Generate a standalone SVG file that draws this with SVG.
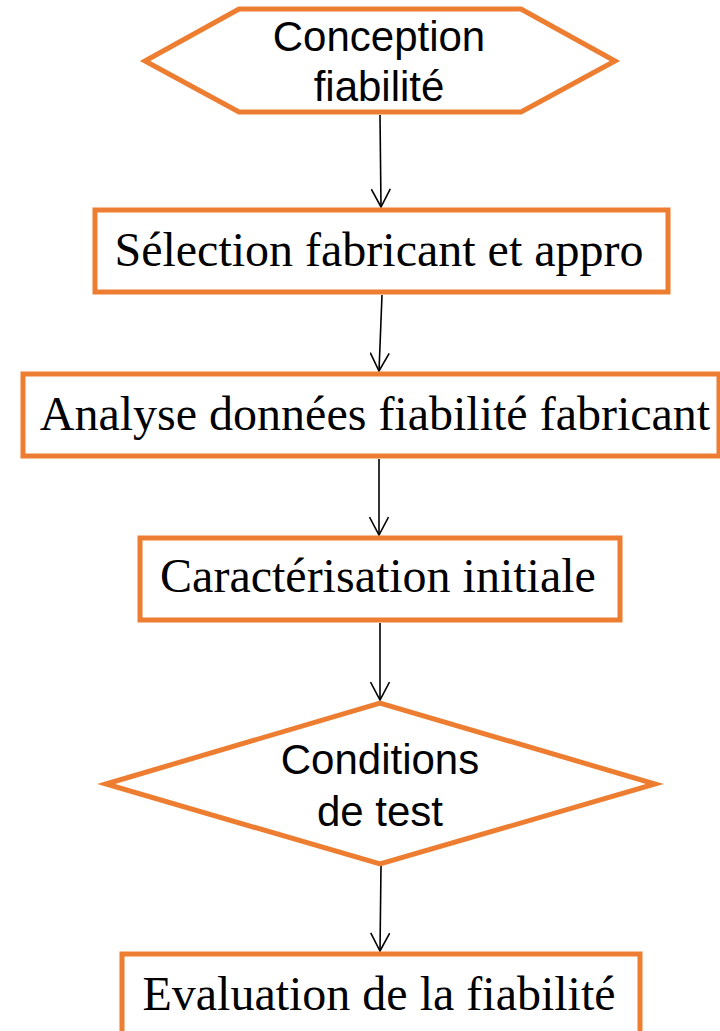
<svg xmlns="http://www.w3.org/2000/svg" width="720" height="1031" viewBox="0 0 720 1031">
  <style>
    .shape { fill: #FFFFFF; stroke: #ED7D31; stroke-width: 5; }
    .sans { font-family: "Liberation Sans", Arial, sans-serif; font-size: 42px; fill: #000000; text-anchor: middle; }
    .serif { font-family: "Liberation Serif", "Times New Roman", serif; font-size: 48px; fill: #000000; text-anchor: middle; }
    .conn { fill: none; stroke: #000000; stroke-width: 1.6; }
  </style>
  <defs>
    <marker id="arrow" viewBox="0 0 20 20" refX="19" refY="10" markerWidth="20" markerHeight="20" markerUnits="userSpaceOnUse" orient="auto">
      <path d="M1,0.5 L19,10 L1,19.5" fill="none" stroke="#000000" stroke-width="1.6"/>
    </marker>
  </defs>
  <rect width="720" height="1031" fill="#FFFFFF"/>

  <g id="connectors">
    <line class="conn" x1="380" y1="115" x2="381" y2="207" marker-end="url(#arrow)"/>
    <line class="conn" x1="382" y1="295" x2="379" y2="371" marker-end="url(#arrow)"/>
    <line class="conn" x1="379" y1="459" x2="379" y2="535" marker-end="url(#arrow)"/>
    <line class="conn" x1="380" y1="623" x2="380" y2="700" marker-end="url(#arrow)"/>
    <line class="conn" x1="381" y1="866" x2="380" y2="951" marker-end="url(#arrow)"/>
  </g>

  <g id="node-conception">
    <polygon class="shape" points="145,61 239,9 521,9 615,61 521,112 239,112"/>
    <text class="sans" x="379" y="51">Conception</text>
    <text class="sans" x="379" y="101">fiabilité</text>
  </g>

  <g id="node-selection">
    <rect class="shape" x="95" y="210" width="573" height="82"/>
    <text class="serif" x="379" y="266">Sélection fabricant et appro</text>
  </g>

  <g id="node-analyse">
    <rect class="shape" x="23" y="374" width="696" height="82"/>
    <text class="serif" x="375" y="430">Analyse données fiabilité fabricant</text>
  </g>

  <g id="node-caracterisation">
    <rect class="shape" x="140" y="538" width="480" height="82"/>
    <text class="serif" x="378" y="592">Caractérisation initiale</text>
  </g>

  <g id="node-conditions">
    <polygon class="shape" points="106,784 380,703 655,784 380,864"/>
    <text class="sans" x="380" y="774">Conditions</text>
    <text class="sans" x="380" y="826">de test</text>
  </g>

  <g id="node-evaluation">
    <rect class="shape" x="122" y="954" width="518" height="84"/>
    <text class="serif" x="379" y="1010">Evaluation de la fiabilité</text>
  </g>
</svg>
